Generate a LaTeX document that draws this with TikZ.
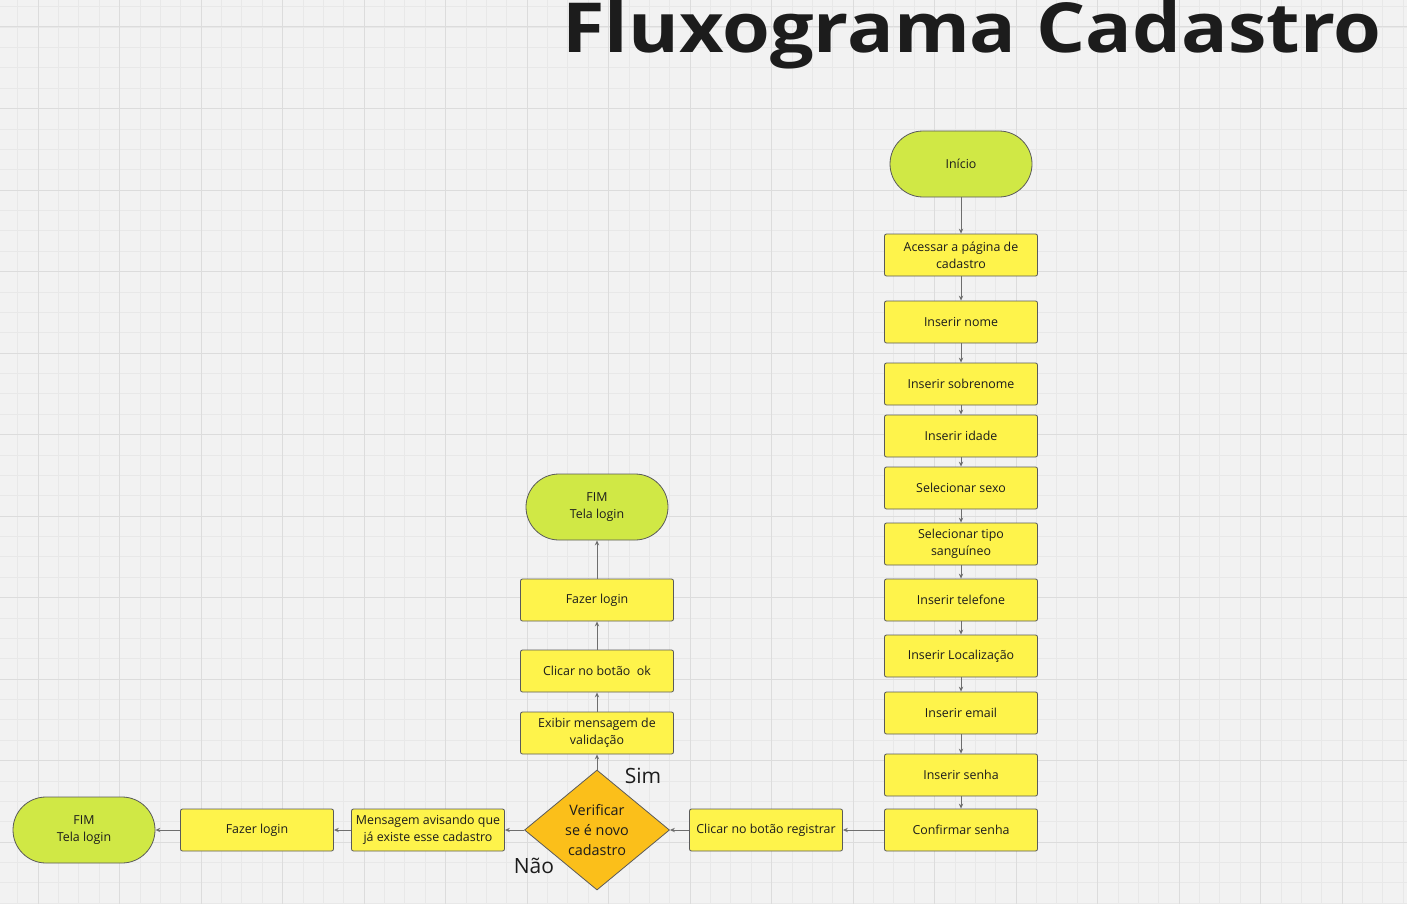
\documentclass[tikz,border=0pt]{standalone}
\usepackage{fontspec}
\setmainfont{Open Sans}
\usetikzlibrary{shapes.geometric,arrows.meta}

\definecolor{fundo}{HTML}{F2F2F2}
\definecolor{grade}{HTML}{E8E8E8}
\definecolor{gradeforte}{HTML}{DCDCDC}
\definecolor{amarelo}{HTML}{FEF34B}
\definecolor{lima}{HTML}{D0E845}
\definecolor{laranja}{HTML}{FBBF1A}
\definecolor{borda}{HTML}{5A5A5A}
\definecolor{linha}{HTML}{6E6E6E}
\definecolor{texto}{HTML}{1C1C1C}

\tikzset{
  caixa/.style={draw=borda, fill=amarelo, rounded corners=1pt, line width=0.4pt,
    minimum width=76.5pt, minimum height=21pt, inner sep=0pt, align=center,
    text=texto, font=\fontsize{6.2}{8.5}\selectfont},
  terminal/.style={caixa, fill=lima, rounded corners=16.5pt,
    minimum width=71pt, minimum height=33pt},
  decisao/.style={diamond, draw=borda, fill=laranja, line width=0.4pt,
    minimum width=72.5pt, minimum height=60pt, aspect=1.21, inner sep=0pt,
    align=center, text=texto, font=\fontsize{7.2}{10}\selectfont},
  seta/.style={draw=linha, line width=0.5pt, -{Stealth[length=2.5pt,width=2.2pt]}},
  rotulo/.style={text=texto, inner sep=0pt, font=\fontsize{10.5}{12}\selectfont}
}

\begin{document}
\begin{tikzpicture}[x=0.5pt,y=-0.5pt]
	\useasboundingbox (0,0) rectangle (1407,904);
	% fundo quadriculado
	\fill[fundo] (0,0) rectangle (1407,904);
	\foreach \i in {0,...,68} \draw[grade, line width=0.3pt] ({17.6+20.375*\i},0) -- ++(0,904);
	\foreach \i in {0,...,44} \draw[grade, line width=0.3pt] (0,{6.6+20.375*\i}) -- ++(1407,0);
	\foreach \k in {0,...,16} \draw[gradeforte, line width=0.5pt] ({38+81.5*\k},0) -- ++(0,904);
	\foreach \k in {0,...,10} \draw[gradeforte, line width=0.5pt] (0,{27+81.5*\k}) -- ++(1407,0);

	\node[anchor=base west, inner sep=0pt, text=texto, font=\fontsize{34.5}{40}\selectfont\bfseries] (titulo) at (562,53) {\scalebox{1.12}[1]{Fluxograma Cadastro}};

	% coluna da direita
	\node[terminal] (inicio) at (961,164) {Início};
	\node[caixa] (acessar) at (961,255) {Acessar a página de\\cadastro};
	\node[caixa] (nome) at (961,322) {Inserir nome};
	\node[caixa] (sobrenome) at (961,384) {Inserir sobrenome};
	\node[caixa] (idade) at (961,436) {Inserir idade};
	\node[caixa] (sexo) at (961,488) {Selecionar sexo};
	\node[caixa] (sangue) at (961,544) {Selecionar tipo\\sanguíneo};
	\node[caixa] (telefone) at (961,600) {Inserir telefone};
	\node[caixa] (local) at (961,656) {Inserir Localização};
	\node[caixa] (email) at (961,713) {Inserir email};
	\node[caixa] (senha) at (961,775) {Inserir senha};
	\node[caixa] (confirmar) at (961,830) {Confirmar senha};

	% linha de baixo
	\node[caixa] (registrar) at (766,830) {Clicar no botão registrar};
	\node[decisao] (verificar) at (597,830) {Verificar\\se é novo\\cadastro};
	\node[caixa] (mensagem) at (428,830) {Mensagem avisando que\\já existe esse cadastro};
	\node[caixa] (loginb) at (257,830) {Fazer login};
	\node[terminal] (fimb) at (84,830) {FIM\\Tela login};

	% coluna do meio
	\node[caixa] (exibir) at (597,733) {Exibir mensagem de\\validação};
	\node[caixa] (ok) at (597,671) {Clicar no botão\ \ ok};
	\node[caixa] (login) at (597,600) {Fazer login};
	\node[terminal] (fim) at (597,507) {FIM\\Tela login};

	\node[rotulo] (sim) at (643,776) {Sim};
	\node[rotulo] (nao) at (534,866) {Não};

	\draw[seta] (inicio) -- (acessar);
	\draw[seta] (acessar) -- (nome);
	\draw[seta] (nome) -- (sobrenome);
	\draw[seta] (sobrenome) -- (idade);
	\draw[seta] (idade) -- (sexo);
	\draw[seta] (sexo) -- (sangue);
	\draw[seta] (sangue) -- (telefone);
	\draw[seta] (telefone) -- (local);
	\draw[seta] (local) -- (email);
	\draw[seta] (email) -- (senha);
	\draw[seta] (senha) -- (confirmar);
	\draw[seta] (confirmar) -- (registrar);
	\draw[seta] (registrar) -- (verificar);
	\draw[seta] (verificar) -- (mensagem);
	\draw[seta] (mensagem) -- (loginb);
	\draw[seta] (loginb) -- (fimb);
	\draw[seta] (verificar) -- (exibir);
	\draw[seta] (exibir) -- (ok);
	\draw[seta] (ok) -- (login);
	\draw[seta] (login) -- (fim);
\end{tikzpicture}
\end{document}
